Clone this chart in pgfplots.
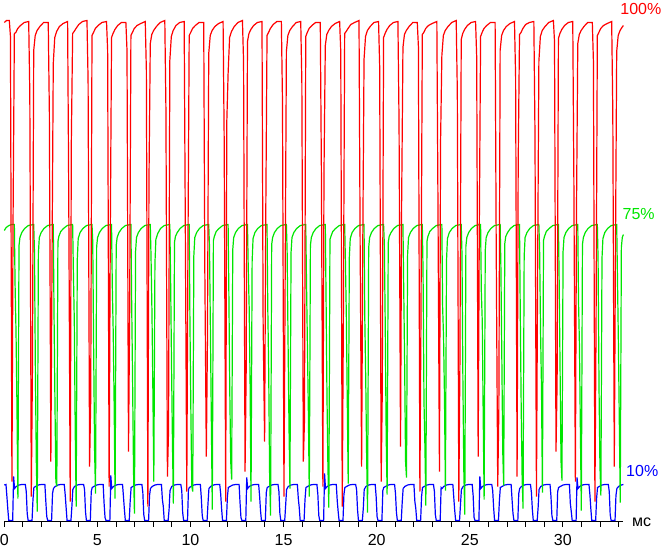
\documentclass[border=0pt]{standalone}
\usepackage{fontspec}
\setmainfont{Liberation Sans}
\usepackage{pgfplots}
\pgfplotsset{compat=1.18}

\definecolor{wred}{RGB}{255,0,0}
\definecolor{wgreen}{RGB}{0,230,0}
\definecolor{wblue}{RGB}{0,0,255}

\begin{document}
\begin{tikzpicture}
\begin{axis}[
  scale only axis,
  width=619.1bp, height=500bp,
  xmin=0, xmax=33.25, ymin=0, ymax=500,
  clip=false,
  axis x line=bottom, axis y line=none,
  axis line style={-, line width=1bp, black},
  xtick={0,5,...,30},
  minor xtick={1,2,...,33},
  tick align=outside,
  major tick length=5bp, minor tick length=5bp,
  every tick/.style={black, line width=1bp},
  /pgf/number format/assume math mode=true,
  tick label style={font=\fontsize{16bp}{18bp}\selectfont},
  xticklabel style={anchor=north, inner sep=0pt, yshift=-8bp},
  every axis plot/.append style={line width=1.2bp, line join=miter},
]
% 10% (blue)
\addplot[wblue] coordinates {
(0,36.5)
(0.09,37) (0.14,25) (0.19,12) (0.24,1) (0.45,1) (0.50,45) (0.55,33) (0.64,35) (0.79,36.5) (0.94,37)
(1.13,37) (1.18,30) (1.23,8) (1.28,1) (1.49,1) (1.54,22) (1.59,34) (1.68,35) (1.83,36.5) (1.98,37)
(2.18,37) (2.23,20) (2.28,5) (2.33,1) (2.54,1) (2.59,28) (2.64,33) (2.73,35) (2.88,36.5) (3.03,37)
(3.22,37) (3.27,27) (3.32,14) (3.37,1) (3.58,1) (3.63,15) (3.68,32) (3.77,35) (3.92,36.5) (4.07,37)
(4.26,37) (4.31,32) (4.36,10) (4.41,1) (4.62,1) (4.67,30) (4.72,34) (4.81,35) (4.96,36.5) (5.11,37)
(5.31,37) (5.36,18) (5.41,4) (5.46,1) (5.67,1) (5.72,46) (5.77,33) (5.86,35) (6.01,36.5) (6.16,37)
(6.35,37) (6.40,25) (6.45,12) (6.50,1) (6.71,1) (6.76,20) (6.81,34) (6.90,35) (7.05,36.5) (7.20,37)
(7.39,37) (7.44,29) (7.49,7) (7.54,1) (7.75,1) (7.80,26) (7.85,33) (7.94,35) (8.09,36.5) (8.24,37)
(8.44,37) (8.49,22) (8.54,15) (8.59,1) (8.80,1) (8.85,12) (8.90,31) (8.99,35) (9.14,36.5) (9.29,37)
(9.48,37) (9.53,31) (9.58,9) (9.63,1) (9.84,1) (9.89,32) (9.94,34) (10.03,35) (10.18,36.5) (10.33,37)
(10.53,37) (10.58,24) (10.63,6) (10.68,1) (10.89,1) (10.94,18) (10.99,33) (11.08,35) (11.23,36.5) (11.38,37)
(11.57,37) (11.62,28) (11.67,13) (11.72,1) (11.93,1) (11.98,24) (12.03,34) (12.12,35) (12.27,36.5) (12.42,37)
(12.61,37) (12.66,19) (12.71,4) (12.76,1) (12.97,1) (13.02,44) (13.07,33) (13.16,35) (13.31,36.5) (13.46,37)
(13.66,37) (13.71,26) (13.76,11) (13.81,1) (14.02,1) (14.07,29) (14.12,34) (14.21,35) (14.36,36.5) (14.51,37)
(14.70,37) (14.75,30) (14.80,8) (14.85,1) (15.06,1) (15.11,16) (15.16,32) (15.25,35) (15.40,36.5) (15.55,37)
(15.74,37) (15.79,23) (15.84,14) (15.89,1) (16.10,1) (16.15,22) (16.20,34) (16.29,35) (16.44,36.5) (16.59,37)
(16.79,37) (16.84,27) (16.89,6) (16.94,1) (17.15,1) (17.20,48) (17.25,33) (17.34,35) (17.49,36.5) (17.64,37)
(17.83,37) (17.88,21) (17.93,10) (17.98,1) (18.19,1) (18.24,27) (18.29,34) (18.38,35) (18.53,36.5) (18.68,37)
(18.87,37) (18.92,32) (18.97,12) (19.02,1) (19.23,1) (19.28,13) (19.33,32) (19.42,35) (19.57,36.5) (19.72,37)
(19.92,37) (19.97,25) (20.02,5) (20.07,1) (20.28,1) (20.33,31) (20.38,34) (20.47,35) (20.62,36.5) (20.77,37)
(20.96,37) (21.01,28) (21.06,9) (21.11,1) (21.32,1) (21.37,19) (21.42,33) (21.51,35) (21.66,36.5) (21.81,37)
(22.00,37) (22.05,20) (22.10,13) (22.15,1) (22.36,1) (22.41,25) (22.46,34) (22.55,35) (22.70,36.5) (22.85,37)
(23.05,37) (23.10,30) (23.15,7) (23.20,1) (23.41,1) (23.46,34) (23.51,33) (23.60,35) (23.75,36.5) (23.90,37)
(24.09,37) (24.14,24) (24.19,11) (24.24,1) (24.45,1) (24.50,17) (24.55,32) (24.64,35) (24.79,36.5) (24.94,37)
(25.13,37) (25.18,26) (25.23,4) (25.28,1) (25.49,1) (25.54,45) (25.59,33) (25.68,35) (25.83,36.5) (25.98,37)
(26.18,37) (26.23,31) (26.28,14) (26.33,1) (26.54,1) (26.59,21) (26.64,34) (26.73,35) (26.88,36.5) (27.03,37)
(27.22,37) (27.27,22) (27.32,8) (27.37,1) (27.58,1) (27.63,28) (27.68,33) (27.77,35) (27.92,36.5) (28.07,37)
(28.26,37) (28.31,29) (28.36,12) (28.41,1) (28.62,1) (28.67,14) (28.72,32) (28.81,35) (28.96,36.5) (29.11,37)
(29.31,37) (29.36,25) (29.41,6) (29.46,1) (29.67,1) (29.72,30) (29.77,34) (29.86,35) (30.01,36.5) (30.16,37)
(30.35,37) (30.40,18) (30.45,10) (30.50,1) (30.71,1) (30.76,44) (30.81,33) (30.90,35) (31.05,36.5) (31.20,37)
(31.40,37) (31.45,27) (31.50,13) (31.55,1) (31.76,1) (31.81,23) (31.86,34) (31.95,35) (32.10,36.5) (32.25,37)
(32.44,37) (32.49,30) (32.54,7) (32.59,1) (32.80,1) (32.85,26) (32.90,33) (32.99,35) (33.14,36.5) (33.25,37)
};
% 75% (green)
\addplot[wgreen] coordinates {
(0,291) (0.1,294) (0.25,296) (0.4,297)
(0.54,297) (0.58,236) (0.63,189) (0.68,116) (0.73,23) (0.79,276) (0.84,284) (0.94,289) (1.09,293) (1.29,296)
(1.58,297) (1.62,270) (1.67,150) (1.72,60) (1.77,10) (1.83,268) (1.88,284) (1.98,289) (2.13,293) (2.33,296)
(2.63,297) (2.67,210) (2.72,120) (2.77,40) (2.82,35) (2.88,280) (2.93,285) (3.03,290) (3.18,293) (3.38,296)
(3.67,297) (3.71,250) (3.76,200) (3.81,90) (3.86,15) (3.92,262) (3.97,283) (4.07,289) (4.22,293) (4.42,296)
(4.71,297) (4.75,280) (4.80,170) (4.85,70) (4.90,28) (4.96,275) (5.01,284) (5.11,289) (5.26,293) (5.46,296)
(5.76,297) (5.80,236) (5.85,189) (5.90,116) (5.95,23) (6.01,276) (6.06,284) (6.16,289) (6.31,293) (6.51,296)
(6.80,297) (6.84,220) (6.89,140) (6.94,50) (6.99,8) (7.05,270) (7.10,284) (7.20,289) (7.35,293) (7.55,296)
(7.84,297) (7.88,265) (7.93,210) (7.98,130) (8.03,40) (8.09,258) (8.14,282) (8.24,288) (8.39,293) (8.59,296)
(8.89,297) (8.93,245) (8.98,160) (9.03,80) (9.08,18) (9.14,279) (9.19,285) (9.29,289) (9.44,293) (9.64,296)
(9.93,297) (9.97,200) (10.02,110) (10.07,35) (10.12,30) (10.18,266) (10.23,284) (10.33,289) (10.48,293) (10.68,296)
(10.98,297) (11.02,275) (11.07,190) (11.12,100) (11.17,12) (11.23,281) (11.28,285) (11.38,290) (11.53,293) (11.73,296)
(12.02,297) (12.06,230) (12.11,130) (12.16,60) (12.21,42) (12.27,272) (12.32,284) (12.42,289) (12.57,293) (12.77,296)
(13.06,297) (13.10,255) (13.15,215) (13.20,140) (13.25,20) (13.31,260) (13.36,283) (13.46,289) (13.61,293) (13.81,296)
(14.11,297) (14.15,215) (14.20,150) (14.25,45) (14.30,6) (14.36,277) (14.41,284) (14.51,289) (14.66,293) (14.86,296)
(15.15,297) (15.19,270) (15.24,180) (15.29,95) (15.34,33) (15.40,269) (15.45,284) (15.55,289) (15.70,293) (15.90,296)
(16.19,297) (16.23,240) (16.28,175) (16.33,110) (16.38,25) (16.44,276) (16.49,284) (16.59,289) (16.74,293) (16.94,296)
(17.24,297) (17.28,225) (17.33,125) (17.38,55) (17.43,14) (17.49,282) (17.54,285) (17.64,290) (17.79,293) (17.99,296)
(18.28,297) (18.32,260) (18.37,205) (18.42,120) (18.47,38) (18.53,264) (18.58,283) (18.68,289) (18.83,293) (19.03,296)
(19.32,297) (19.36,205) (19.41,145) (19.46,65) (19.51,9) (19.57,274) (19.62,284) (19.72,289) (19.87,293) (20.07,296)
(20.37,297) (20.41,278) (20.46,195) (20.51,85) (20.56,27) (20.62,279) (20.67,285) (20.77,289) (20.92,293) (21.12,296)
(21.41,297) (21.45,235) (21.50,160) (21.55,60) (21.60,44) (21.66,267) (21.71,284) (21.81,289) (21.96,293) (22.16,296)
(22.45,297) (22.49,250) (22.54,120) (22.59,75) (22.64,16) (22.70,280) (22.75,285) (22.85,290) (23.00,293) (23.20,296)
(23.50,297) (23.54,215) (23.59,185) (23.64,125) (23.69,31) (23.75,261) (23.80,283) (23.90,289) (24.05,293) (24.25,296)
(24.54,297) (24.58,268) (24.63,140) (24.68,50) (24.73,7) (24.79,275) (24.84,284) (24.94,289) (25.09,293) (25.29,296)
(25.58,297) (25.62,230) (25.67,200) (25.72,105) (25.77,22) (25.83,271) (25.88,284) (25.98,289) (26.13,293) (26.33,296)
(26.63,297) (26.67,255) (26.72,165) (26.77,70) (26.82,36) (26.88,278) (26.93,285) (27.03,289) (27.18,293) (27.38,296)
(27.67,297) (27.71,210) (27.76,115) (27.81,45) (27.86,13) (27.92,265) (27.97,284) (28.07,289) (28.22,293) (28.42,296)
(28.71,297) (28.75,272) (28.80,190) (28.85,135) (28.90,29) (28.96,281) (29.01,285) (29.11,290) (29.26,293) (29.46,296)
(29.76,297) (29.80,240) (29.85,150) (29.90,60) (29.95,41) (30.01,270) (30.06,284) (30.16,289) (30.31,293) (30.51,296)
(30.80,297) (30.84,220) (30.89,175) (30.94,90) (30.99,11) (31.05,277) (31.10,284) (31.20,289) (31.35,293) (31.55,296)
(31.85,297) (31.89,262) (31.94,135) (31.99,55) (32.04,26) (32.10,263) (32.15,283) (32.25,289) (32.40,293) (32.60,296)
(32.89,297) (32.93,245) (32.98,180) (33.03,100) (33.08,19) (33.14,274) (33.19,284) (33.25,287)
};
% 100% (red)
\addplot[wred] coordinates {
(0,499) (0.12,501)
(0.27,501) (0.33,485) (0.41,40) (0.47,300) (0.54,488) (0.62,489) (0.72,493) (0.87,496) (1.07,499)
(1.31,500) (1.37,428) (1.45,25) (1.51,150) (1.58,471) (1.66,486) (1.76,491) (1.91,495) (2.11,499)
(2.36,499) (2.42,409) (2.50,60) (2.56,250) (2.63,458) (2.71,484) (2.81,490) (2.96,495) (3.16,498)
(3.40,500) (3.46,330) (3.54,20) (3.60,380) (3.67,488) (3.75,490) (3.85,493) (4.00,497) (4.20,500)
(4.44,501) (4.50,441) (4.58,55) (4.64,120) (4.71,486) (4.79,489) (4.89,493) (5.04,496) (5.24,499)
(5.49,500) (5.55,471) (5.63,35) (5.69,280) (5.76,484) (5.84,488) (5.94,492) (6.09,496) (6.29,499)
(6.53,499) (6.59,471) (6.67,70) (6.73,200) (6.80,486) (6.88,489) (6.98,493) (7.13,496) (7.33,498)
(7.57,500) (7.63,451) (7.71,15) (7.77,340) (7.84,478) (7.92,487) (8.02,491) (8.17,495) (8.37,499)
(8.62,501) (8.68,413) (8.76,45) (8.82,90) (8.89,461) (8.97,485) (9.07,491) (9.22,496) (9.42,499)
(9.66,500) (9.72,300) (9.80,30) (9.86,260) (9.93,486) (10.01,489) (10.11,493) (10.26,496) (10.46,499)
(10.71,499) (10.77,250) (10.85,65) (10.91,180) (10.98,468) (11.06,486) (11.16,491) (11.31,495) (11.51,498)
(11.75,500) (11.81,380) (11.89,20) (11.95,400) (12.02,448) (12.10,484) (12.20,490) (12.35,495) (12.55,499)
(12.79,501) (12.85,460) (12.93,50) (12.99,150) (13.06,480) (13.14,488) (13.24,492) (13.39,496) (13.59,499)
(13.84,500) (13.90,200) (13.98,80) (14.04,300) (14.11,486) (14.19,489) (14.29,493) (14.44,497) (14.64,500)
(14.88,500) (14.94,420) (15.02,25) (15.08,230) (15.15,470) (15.23,486) (15.33,491) (15.48,495) (15.68,499)
(15.92,500) (15.98,440) (16.06,60) (16.12,100) (16.19,485) (16.27,489) (16.37,493) (16.52,496) (16.72,499)
(16.97,499) (17.03,350) (17.11,35) (17.17,350) (17.24,476) (17.32,487) (17.42,491) (17.57,495) (17.77,498)
(18.01,500) (18.07,470) (18.15,15) (18.21,200) (18.28,488) (18.36,490) (18.46,493) (18.61,497) (18.81,499)
(19.05,501) (19.11,280) (19.19,55) (19.25,270) (19.32,462) (19.40,485) (19.50,491) (19.65,495) (19.85,499)
(20.10,500) (20.16,455) (20.24,40) (20.30,130) (20.37,484) (20.45,488) (20.55,492) (20.70,496) (20.90,499)
(21.14,500) (21.20,400) (21.28,75) (21.34,320) (21.41,474) (21.49,487) (21.59,491) (21.74,495) (21.94,499)
(22.18,499) (22.24,475) (22.32,30) (22.38,210) (22.45,487) (22.53,489) (22.63,493) (22.78,496) (22.98,498)
(23.23,500) (23.29,320) (23.37,50) (23.43,380) (23.50,466) (23.58,486) (23.68,491) (23.83,495) (24.03,499)
(24.27,501) (24.33,430) (24.41,20) (24.47,160) (24.54,482) (24.62,488) (24.72,492) (24.87,496) (25.07,499)
(25.31,500) (25.37,465) (25.45,65) (25.51,290) (25.58,485) (25.66,489) (25.76,493) (25.91,496) (26.11,499)
(26.36,499) (26.42,270) (26.50,35) (26.56,110) (26.63,471) (26.71,486) (26.81,491) (26.96,495) (27.16,498)
(27.40,500) (27.46,445) (27.54,45) (27.60,360) (27.67,487) (27.75,489) (27.85,493) (28.00,497) (28.20,499)
(28.44,500) (28.50,390) (28.58,25) (28.64,240) (28.71,460) (28.79,485) (28.89,491) (29.04,495) (29.24,499)
(29.49,501) (29.55,480) (29.63,70) (29.69,140) (29.76,483) (29.84,488) (29.94,492) (30.09,496) (30.29,499)
(30.53,500) (30.59,340) (30.67,40) (30.73,310) (30.80,478) (30.88,487) (30.98,491) (31.13,495) (31.33,499)
(31.58,499) (31.64,460) (31.72,20) (31.78,190) (31.85,486) (31.93,489) (32.03,493) (32.18,496) (32.38,498)
(32.62,500) (32.68,410) (32.76,55) (32.82,260) (32.89,470) (32.97,486) (33.07,491) (33.17,494) (33.25,496)
};
\coordinate (O) at (axis cs:0,0);
\node[anchor=base west, inner sep=0pt, text=wred, font=\fontsize{16bp}{18bp}\selectfont] at (axis cs:33.08,507) {100\%};
\node[anchor=base west, inner sep=0pt, text=wgreen, font=\fontsize{16bp}{18bp}\selectfont] at (axis cs:33.2,302.5) {75\%};
\node[anchor=base west, inner sep=0pt, text=wblue, font=\fontsize{16bp}{18bp}\selectfont] at (axis cs:33.39,44.8) {10\%};
\node[anchor=base west, inner sep=0pt, text=black, font=\fontsize{16bp}{18bp}\selectfont] at (axis cs:33.71,-5.2) {мс};
\end{axis}
\pgfresetboundingbox
\path[use as bounding box] ([shift={(-4.3bp,-27.5bp)}]O) rectangle ++(662bp,549bp);
\end{tikzpicture}
\end{document}
